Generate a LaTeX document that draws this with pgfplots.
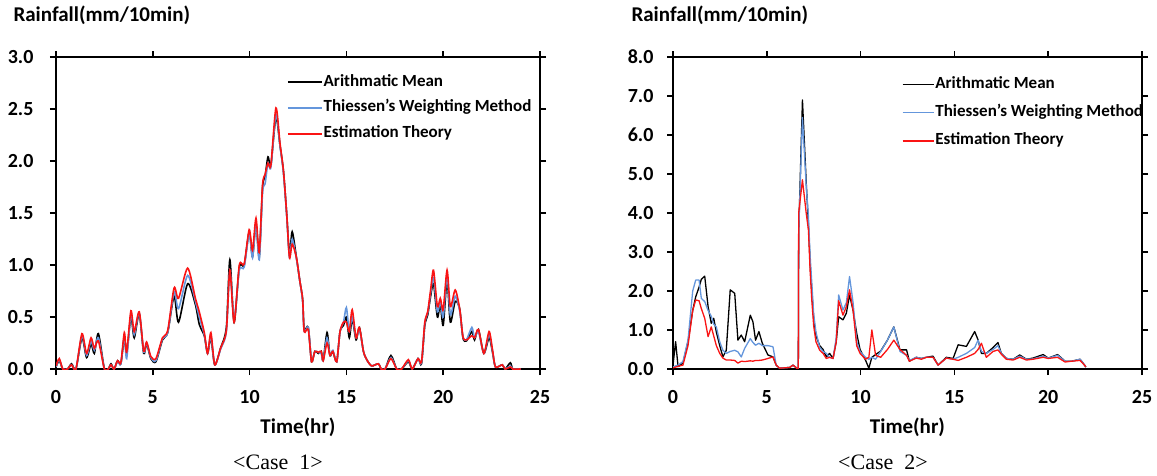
\documentclass[border=0pt]{standalone}
\usepackage{fontspec}
\setmainfont{Carlito}
\newfontfamily\capfont{Liberation Serif}
\usepackage{pgfplots}
\usepackage{pgfplotstable}
\pgfplotsset{compat=1.18}

\definecolor{thblue}{RGB}{100,150,220}
\definecolor{esred}{RGB}{250,20,20}

% Case 1: t (hr), arithmetic mean, Thiessen, estimation theory
\pgfplotstableread{
t a b c
0.0 0.02 0.02 0.03
0.17 0.08 0.09 0.10
0.35 0.0 0.0 0.0
0.6 0.0 0.0 0.0
0.8 0.05 0.04 0.04
1.03 0.0 0.0 0.0
1.34 0.30 0.32 0.34
1.58 0.11 0.13 0.15
1.81 0.24 0.27 0.30
1.98 0.15 0.18 0.20
2.19 0.34 0.30 0.27
2.5 0.0 0.0 0.0
2.7 0.0 0.0 0.0
2.84 0.05 0.04 0.04
3.0 0.0 0.0 0.0
3.18 0.08 0.07 0.08
3.35 0.05 0.05 0.06
3.53 0.30 0.32 0.35
3.65 0.15 0.10 0.16
3.87 0.50 0.53 0.56
4.04 0.30 0.33 0.36
4.3 0.53 0.54 0.55
4.53 0.15 0.16 0.17
4.68 0.24 0.25 0.26
4.9 0.10 0.11 0.12
5.16 0.07 0.08 0.10
5.5 0.28 0.29 0.30
5.77 0.35 0.35 0.37
6.1 0.70 0.74 0.78
6.33 0.45 0.58 0.68
6.8 0.82 0.90 0.97
7.2 0.62 0.65 0.68
7.4 0.43 0.50 0.55
7.66 0.32 0.33 0.35
7.83 0.15 0.15 0.15
8.0 0.30 0.32 0.35
8.2 0.04 0.04 0.04
8.5 0.20 0.19 0.20
8.8 0.40 0.36 0.37
8.98 1.05 0.95 0.95
9.2 0.45 0.48 0.45
9.47 0.98 0.95 1.00
9.72 1.00 0.98 1.01
9.98 1.32 1.30 1.34
10.15 1.08 1.07 1.14
10.33 1.40 1.38 1.45
10.5 1.08 1.05 1.12
10.67 1.75 1.70 1.77
10.8 1.85 1.78 1.87
10.95 2.04 1.98 1.98
11.1 1.96 1.94 1.96
11.36 2.42 2.45 2.51
11.57 2.15 2.15 2.17
11.75 1.90 1.88 1.90
11.92 1.48 1.47 1.48
12.06 1.10 1.07 1.07
12.2 1.32 1.25 1.20
12.42 1.07 1.06 1.07
12.6 0.84 0.84 0.84
12.74 0.67 0.65 0.67
12.82 0.38 0.36 0.36
13.03 0.40 0.40 0.38
13.2 0.07 0.08 0.07
13.37 0.17 0.17 0.17
13.55 0.15 0.16 0.16
13.7 0.17 0.15 0.17
13.8 0.08 0.08 0.08
14.0 0.35 0.30 0.25
14.15 0.13 0.13 0.13
14.3 0.17 0.18 0.17
14.5 0.07 0.07 0.07
14.67 0.36 0.36 0.36
14.85 0.42 0.45 0.45
15.0 0.50 0.59 0.45
15.15 0.30 0.36 0.36
15.3 0.48 0.50 0.57
15.5 0.28 0.30 0.30
15.67 0.40 0.38 0.40
15.88 0.17 0.17 0.17
16.05 0.09 0.09 0.09
16.3 0.03 0.03 0.03
16.65 0.05 0.05 0.05
16.8 0.0 0.0 0.0
17.0 0.0 0.0 0.0
17.3 0.13 0.11 0.10
17.6 0.0 0.0 0.0
17.85 0.0 0.0 0.0
18.2 0.07 0.08 0.09
18.4 0.0 0.0 0.0
18.7 0.10 0.10 0.10
18.88 0.05 0.06 0.07
19.05 0.42 0.44 0.45
19.2 0.52 0.54 0.55
19.35 0.70 0.73 0.76
19.5 0.82 0.88 0.95
19.7 0.50 0.55 0.60
19.85 0.62 0.65 0.68
20.0 0.42 0.50 0.57
20.2 0.85 0.90 0.95
20.37 0.45 0.52 0.60
20.62 0.65 0.70 0.76
20.85 0.58 0.56 0.58
21.02 0.30 0.31 0.31
21.2 0.27 0.28 0.28
21.48 0.36 0.40 0.32
21.62 0.28 0.30 0.30
21.82 0.38 0.36 0.38
22.1 0.15 0.15 0.15
22.37 0.30 0.33 0.36
22.55 0.16 0.17 0.18
22.7 0.02 0.02 0.02
23.05 0.04 0.04 0.04
23.2 0.0 0.0 0.0
23.47 0.06 0.03 0.02
23.6 0.0 0.0 0.0
24.0 0.0 0.0 0.0
}\caseone

% Case 2
\pgfplotstableread{
t a b c
0.0 0.10 0.05 0.03
0.14 0.70 0.08 0.05
0.27 0.06 0.10 0.07
0.53 0.15 0.19 0.10
0.8 0.70 0.74 0.60
1.05 1.50 2.00 1.50
1.21 1.85 2.28 1.77
1.39 2.10 2.28 1.75
1.51 2.30 1.81 1.55
1.69 2.38 1.73 1.30
1.87 1.60 1.50 0.83
2.04 1.17 1.35 1.08
2.17 1.30 1.15 0.85
2.31 0.95 1.08 0.60
2.49 0.60 0.70 0.40
2.66 0.31 0.48 0.28
2.84 0.48 0.40 0.23
3.05 2.03 0.45 0.23
3.29 1.94 0.48 0.22
3.46 0.74 0.44 0.15
3.64 0.87 0.31 0.20
3.82 0.70 0.53 0.19
4.12 1.38 0.78 0.21
4.26 1.21 0.68 0.20
4.4 0.74 0.61 0.22
4.58 0.96 0.66 0.22
4.76 0.66 0.60 0.23
5.06 0.36 0.60 0.27
5.33 0.31 0.57 0.31
5.5 0.10 0.10 0.10
5.68 0.02 0.02 0.02
6.22 0.04 0.04 0.04
6.4 0.10 0.10 0.10
6.6 0.02 0.02 0.02
6.68 0.02 0.02 0.02
6.70 3.50 3.50 4.00
6.9 6.90 6.45 4.85
7.1 4.80 4.70 4.00
7.22 3.70 3.90 3.56
7.31 2.70 2.90 2.50
7.4 2.00 2.20 1.75
7.5 1.30 1.40 1.10
7.62 0.85 0.95 0.70
7.82 0.60 0.55 0.48
8.0 0.50 0.45 0.40
8.17 0.31 0.40 0.27
8.35 0.40 0.30 0.30
8.53 0.27 0.27 0.27
8.7 0.70 0.80 0.70
8.83 1.34 1.90 1.75
9.06 1.26 1.51 1.38
9.24 1.43 1.70 1.60
9.41 1.90 2.37 2.03
9.6 1.50 1.70 1.50
9.79 0.92 0.70 0.60
9.97 0.50 0.45 0.40
10.26 0.23 0.30 0.25
10.44 0.02 0.25 0.30
10.6 0.30 0.30 1.00
10.8 0.37 0.25 0.35
11.07 0.46 0.45 0.30
11.43 0.74 0.74 0.50
11.77 1.08 1.08 0.74
12.1 0.49 0.45 0.50
12.45 0.49 0.35 0.35
12.6 0.20 0.22 0.20
12.97 0.30 0.30 0.28
13.24 0.27 0.27 0.25
13.5 0.30 0.30 0.30
13.86 0.33 0.30 0.30
14.13 0.10 0.10 0.10
14.57 0.30 0.28 0.28
14.93 0.27 0.25 0.25
15.2 0.62 0.30 0.22
15.64 0.58 0.40 0.30
16.08 0.96 0.55 0.40
16.26 0.75 0.74 0.50
16.44 0.40 0.45 0.66
16.7 0.40 0.40 0.30
17.06 0.55 0.50 0.45
17.32 0.68 0.60 0.49
17.5 0.40 0.40 0.38
17.77 0.27 0.27 0.25
18.13 0.25 0.25 0.23
18.48 0.36 0.33 0.30
18.84 0.25 0.25 0.23
19.19 0.28 0.26 0.25
19.73 0.37 0.33 0.30
20.0 0.28 0.28 0.27
20.5 0.37 0.35 0.30
20.9 0.20 0.20 0.18
21.25 0.20 0.20 0.20
21.7 0.25 0.25 0.22
21.97 0.08 0.08 0.08
22.0 0.05 0.05 0.05
}\casetwo

\pgfplotsset{
  rainax/.style={
    scale only axis,
    height=312pt,
    xmin=0, xmax=25,
    xtick={0,5,...,25},
    tick align=outside,
    major tick length=6pt,
    tick style={black, line width=1.5pt},
    axis line style={line width=2.8pt},
    clip=true,
    ticklabel style={font=\fontsize{20}{24}\selectfont\bfseries},
    /pgf/number format/assume math mode=true,
    yticklabel style={/pgf/number format/fixed, /pgf/number format/fixed zerofill,
      /pgf/number format/precision=1},
    yticklabel shift=13pt,
    xticklabel shift=12pt,
    xlabel={Time(hr)},
    xlabel style={font=\fontsize{21}{24}\selectfont\bfseries, at={(axis description cs:0.5,0)}, anchor=center, yshift=-58pt},
    legend cell align=left,
    legend style={draw=none, fill=none, inner sep=0pt, anchor=north west,
      font=\fontsize{17}{20}\selectfont\bfseries,
      nodes={text height=12pt, text depth=4pt, inner sep=1pt}},
    legend image code/.code={\draw[#1] (0pt,0pt) -- (34pt,0pt);},
  },
}

\begin{document}
\begin{tikzpicture}
\useasboundingbox (0,0) rectangle (1157pt,475pt);

\begin{axis}[rainax,
  at={(56pt,106pt)}, anchor=south west,
  width=484pt,
  ymin=0, ymax=3, ytick={0,0.5,...,3},
  legend style={at={(rel axis cs:0.477,0.949)}, row sep=7.8pt},
]
\addplot[black, line width=1.6pt, smooth, tension=0.45] table[x=t, y=a] {\caseone};
\addlegendentry{Arithmatic Mean}
\addplot[thblue, line width=1.6pt, smooth, tension=0.45] table[x=t, y=b] {\caseone};
\addlegendentry{Thiessen's Weighting Method}
\addplot[esred, line width=1.6pt, smooth, tension=0.45] table[x=t, y=c] {\caseone};
\addlegendentry{Estimation Theory}
\end{axis}

\begin{axis}[rainax,
  at={(673pt,106pt)}, anchor=south west,
  width=469pt,
  ymin=0, ymax=8, ytick={0,1,...,8},
  yticklabel shift=10pt,
  legend style={at={(rel axis cs:0.488,0.942)}, row sep=10.3pt},
  legend image code/.code={\draw[#1] (0pt,0pt) -- (31pt,0pt);},
]
\addplot[black, line width=1.3pt, line join=round] table[x=t, y=a] {\casetwo};
\addlegendentry{Arithmatic Mean}
\addplot[thblue, line width=1.3pt, line join=round] table[x=t, y=b] {\casetwo};
\addlegendentry{Thiessen's Weighting Method}
\addplot[esred, line width=1.3pt, line join=round] table[x=t, y=c] {\casetwo};
\addlegendentry{Estimation Theory}
\end{axis}

\node[anchor=west, font=\fontsize{21}{24}\selectfont\bfseries] at (10pt,460pt) {Rainfall(mm/10min)};
\node[anchor=west, font=\fontsize{21}{24}\selectfont\bfseries] at (628pt,460pt) {Rainfall(mm/10min)};
\node[font=\capfont\fontsize{22}{26}\selectfont] at (278pt,13pt) {<Case\hspace{0.5em}1>};
\node[font=\capfont\fontsize{22}{26}\selectfont] at (883pt,13pt) {<Case\hspace{0.5em}2>};
\end{tikzpicture}
\end{document}
